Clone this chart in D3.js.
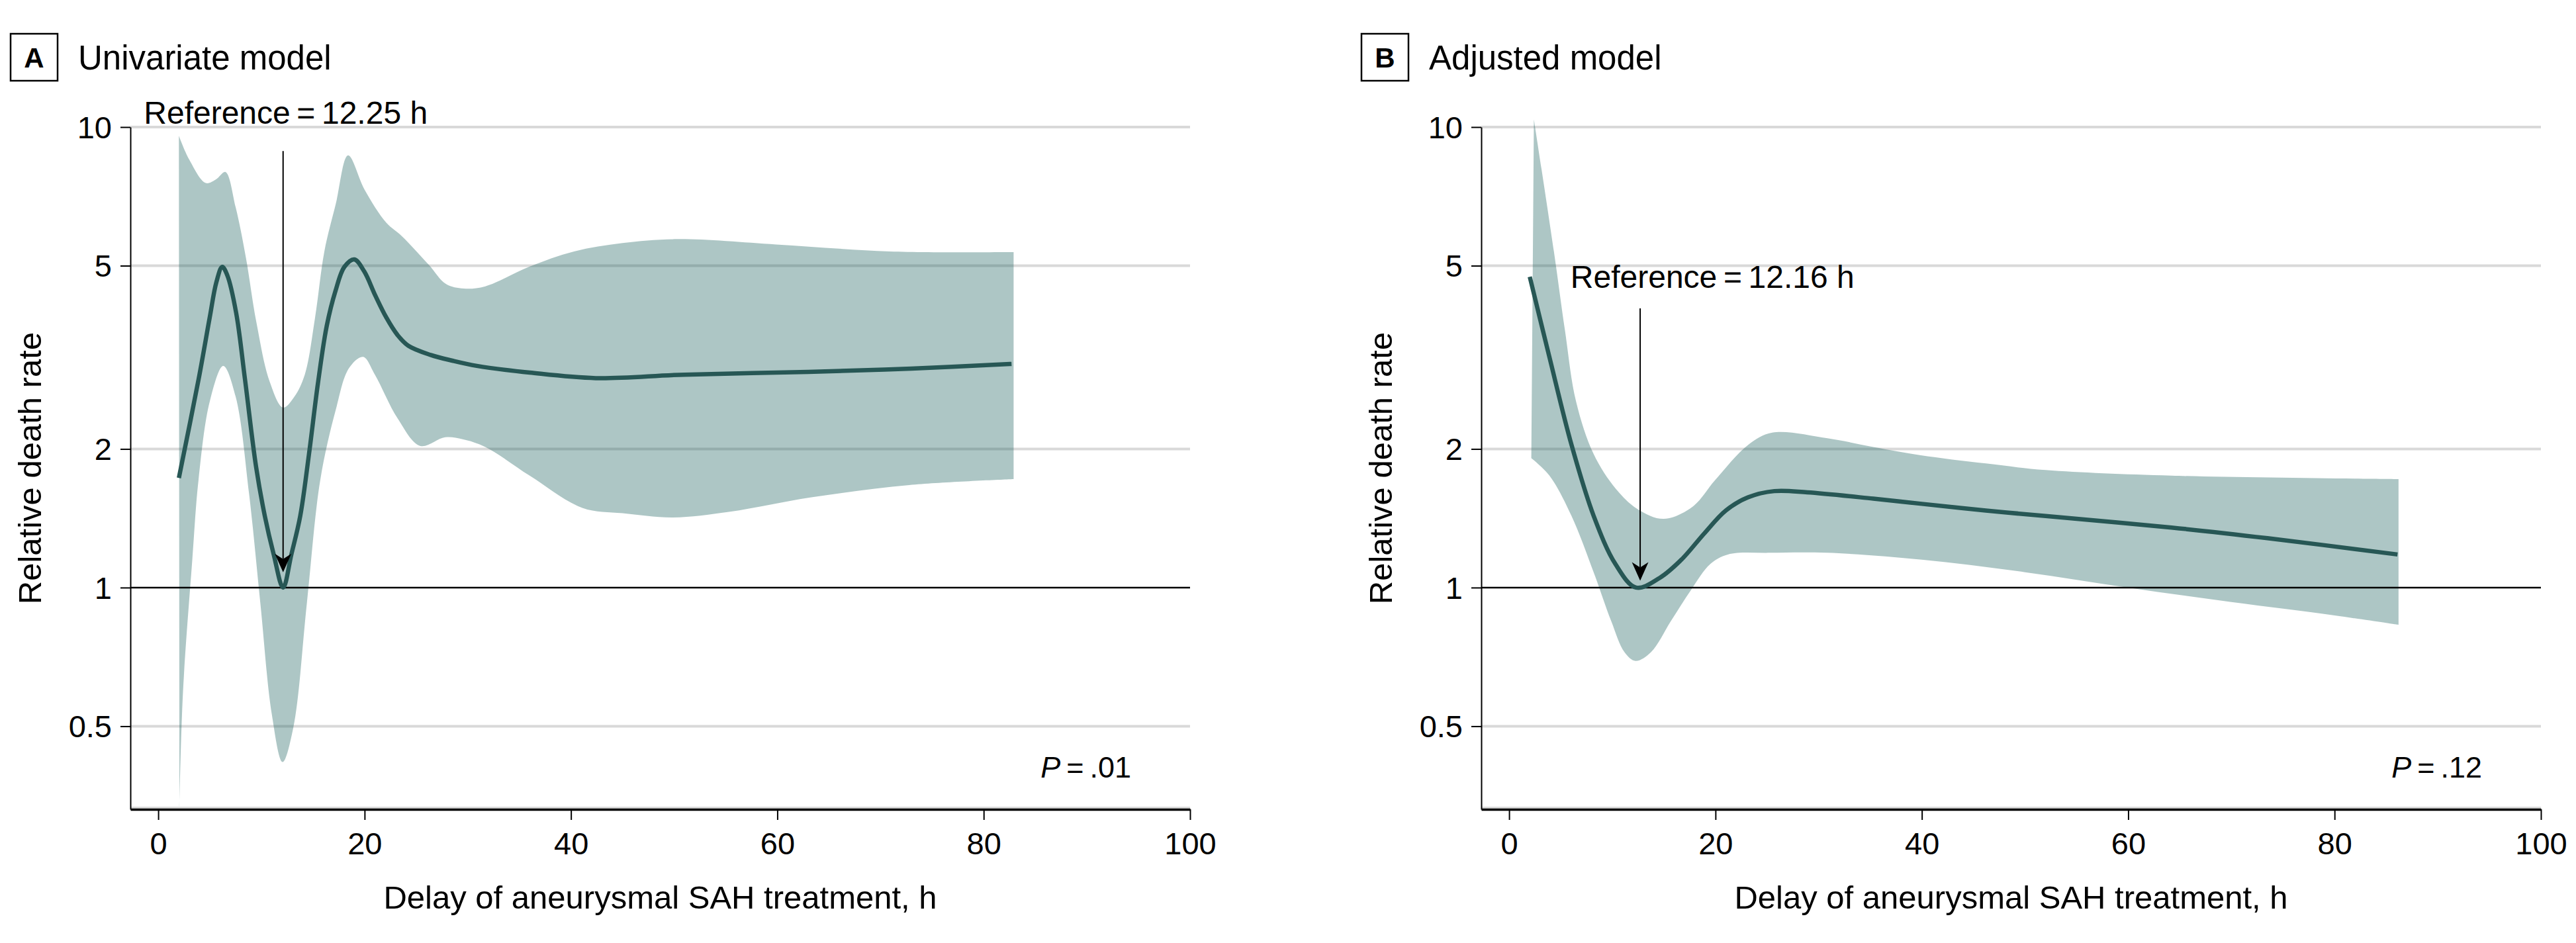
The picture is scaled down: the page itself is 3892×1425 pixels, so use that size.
<!DOCTYPE html>
<html>
<head>
<meta charset="utf-8">
<script src="https://cdn.jsdelivr.net/npm/d3@7"></script>
<style>
  html, body { margin: 0; padding: 0; background: #ffffff; }
  svg { display: block; }
  text { font-family: "Liberation Sans", Arial, sans-serif; fill: #000; }
</style>
</head>
<body>
<svg id="chart" width="3892" height="1425"></svg>
<script>
// ---------------- DATA ----------------
const xTicks = [0, 20, 40, 60, 80, 100];
const yTicks = [0.5, 1, 2, 5, 10];
const xTitle = "Delay of aneurysmal SAH treatment, h";
const yTitle = "Relative death rate";

// Panel A: Univariate model
const lineA_x = [2.0, 3.92, 4.99, 5.63, 6.2, 6.7, 7.55, 8.4, 9.48, 10.33, 11.19, 12.1, 12.9, 13.76, 14.61, 15.47, 16.33, 17.18, 18.04, 19.0, 19.96, 21.03, 22.1, 23.17, 24.24, 26.4, 28.5, 30.87, 36.0, 42.4, 51.0, 63.0, 73.0, 82.7];
const lineA_y = [1.73, 2.84, 3.86, 4.60, 4.97, 4.76, 3.95, 2.84, 1.83, 1.43, 1.18, 1.0, 1.18, 1.43, 1.95, 2.77, 3.70, 4.41, 4.97, 5.16, 4.86, 4.31, 3.86, 3.54, 3.35, 3.20, 3.11, 3.03, 2.93, 2.85, 2.90, 2.94, 2.99, 3.06];
const upperA_x = [2.0, 3.0, 4.6, 5.6, 6.5, 7.5, 8.5, 9.5, 10.8, 12.1, 13.2, 14.2, 15.2, 16.1, 17.2, 18.4, 20.0, 22.1, 23.6, 26.2, 27.9, 29.6, 31.7, 36.0, 40.3, 45.0, 50.3, 59.9, 70.9, 82.9];
const upperA_y = [9.57, 8.5, 7.56, 7.7, 7.99, 6.70, 5.2, 3.78, 2.8, 2.46, 2.6, 2.90, 3.86, 5.37, 6.8, 8.68, 7.31, 6.20, 5.80, 5.03, 4.56, 4.46, 4.51, 4.98, 5.37, 5.6, 5.71, 5.56, 5.37, 5.35];
const lowerA_x = [2.05, 2.4, 3.3, 3.9, 5.0, 6.3, 7.5, 8.8, 9.9, 11.0, 12.05, 13.1, 14.4, 15.7, 17.2, 18.5, 19.85, 21.0, 23.2, 25.4, 27.8, 29.5, 31.7, 36.0, 41.1, 45.0, 49.9, 55.3, 63.3, 72.8, 82.9];
const lowerA_y = [0.335, 0.594, 1.15, 1.71, 2.54, 3.03, 2.60, 1.60, 0.923, 0.532, 0.418, 0.498, 0.923, 1.71, 2.43, 3.0, 3.17, 2.90, 2.33, 2.03, 2.12, 2.10, 2.02, 1.75, 1.49, 1.45, 1.42, 1.46, 1.57, 1.67, 1.72];

// Panel B: Adjusted model
const lineB_x = [2.0, 3.9, 6.05, 8.2, 10.3, 12.3, 14.6, 16.7, 18.9, 21.0, 23.15, 25.7, 28.9, 35.3, 40.0, 46.2, 52.0, 64.2, 73.5, 86.1];
const lineB_y = [4.73, 3.17, 2.04, 1.43, 1.125, 1.0, 1.05, 1.15, 1.31, 1.47, 1.57, 1.62, 1.61, 1.56, 1.52, 1.47, 1.43, 1.35, 1.28, 1.18];
const upperB_x = [2.4, 4.34, 5.41, 6.48, 8.19, 10.33, 12.46, 15.0, 17.8, 19.95, 23.15, 25.5, 30.85, 35.3, 39.8, 46.2, 52.0, 64.2, 86.2];
const upperB_y = [10.4, 5.37, 3.62, 2.54, 1.95, 1.64, 1.48, 1.41, 1.50, 1.71, 2.04, 2.17, 2.11, 2.02, 1.94, 1.86, 1.80, 1.75, 1.72];
const lowerB_x = [2.15, 3.91, 6.05, 8.19, 9.9, 11.18, 12.25, 13.75, 15.67, 17.6, 19.5, 21.2, 25.3, 30.85, 40.0, 50.0, 60.0, 70.0, 80.0, 86.2];
const lowerB_y = [1.91, 1.75, 1.43, 1.08, 0.845, 0.724, 0.693, 0.724, 0.845, 0.986, 1.125, 1.18, 1.19, 1.19, 1.15, 1.08, 1.0, 0.93, 0.87, 0.83];

const panelLetters = ["A", "B"];
const panelTitles = ["Univariate model", "Adjusted model"];
const refLabels = ["Reference\u2009=\u200912.25 h", "Reference\u2009=\u200912.16 h"];
const refArrowX = [12.1, 12.7];          // arrow position (h)
const refArrowTop = [8.87, 4.04];        // arrow start (rate)
const refArrowTip = [1.08, 1.035];       // arrow tip (rate)
const refLabelX = [-1.4, 5.95];          // label start (h)
const refLabelY = [10.17, 4.48];         // label baseline (rate)
const pLabels = [".01", ".12"];

// ---------------- LAYOUT ----------------
const svg = d3.select("#chart");
svg.append("rect").attr("width", 3892).attr("height", 1425).attr("fill", "#fff");

const panelLeft = [197, 2238];
const plotW = 1601, plotTop = 192, plotBottom = 1223;
const lineColor = "#275755";
const bandColor = "rgb(21,92,89)";
const gridColor = "#d9d9d9";

const series = [
  {lx: lineA_x, ly: lineA_y, ux: upperA_x, uy: upperA_y, dx: lowerA_x, dy: lowerA_y},
  {lx: lineB_x, ly: lineB_y, ux: upperB_x, uy: upperB_y, dx: lowerB_x, dy: lowerB_y}
];

const defs = svg.append("defs");

series.forEach((s, i) => {
  const left = panelLeft[i];
  const x = d3.scaleLinear().domain([-2.7, 100]).range([left, left + plotW]);
  const y = d3.scaleLog().domain([0.33, 10]).range([plotBottom, plotTop]);
  const g = svg.append("g");

  defs.append("clipPath").attr("id", "clip" + i)
    .append("rect").attr("x", left).attr("y", 150).attr("width", plotW).attr("height", plotBottom - 150);

  // Title
  g.append("rect").attr("x", left - 181).attr("y", 51).attr("width", 71).attr("height", 71)
    .attr("fill", "none").attr("stroke", "#000").attr("stroke-width", 2.5);
  g.append("text").attr("x", left - 145.5).attr("y", 102).attr("text-anchor", "middle")
    .attr("font-weight", "bold").attr("font-size", 42).text(panelLetters[i]);
  g.append("text").attr("x", left - 79).attr("y", 105).attr("font-size", 51).text(panelTitles[i]);

  // Gridlines
  g.selectAll(".grid").data(yTicks.filter(d => d !== 1)).enter().append("line")
    .attr("x1", left).attr("x2", left + plotW)
    .attr("y1", d => y(d)).attr("y2", d => y(d))
    .attr("stroke", gridColor).attr("stroke-width", 4);
  g.append("line").attr("x1", left).attr("x2", left + plotW)
    .attr("y1", plotBottom - 2).attr("y2", plotBottom - 2)
    .attr("stroke", gridColor).attr("stroke-width", 4);

  // Band
  const lg = d3.line().x(d => x(d[0])).y(d => y(d[1])).curve(d3.curveCatmullRom.alpha(0.5));
  const up = s.ux.map((v, k) => [v, s.uy[k]]);
  const lo = s.dx.map((v, k) => [v, s.dy[k]]).reverse();
  const bandPath = lg(up) + lg(lo).replace(/^M/, "L") + "Z";
  g.append("path").attr("d", bandPath).attr("fill", bandColor).attr("fill-opacity", 0.35)
    .attr("clip-path", "url(#clip" + i + ")");

  // Reference line at 1
  g.append("line").attr("x1", left).attr("x2", left + plotW)
    .attr("y1", y(1)).attr("y2", y(1)).attr("stroke", "#000").attr("stroke-width", 2.5);

  // Estimate line
  const pts = s.lx.map((v, k) => [v, s.ly[k]]);
  g.append("path").attr("d", lg(pts)).attr("fill", "none")
    .attr("stroke", lineColor).attr("stroke-width", 6.5).attr("stroke-linejoin", "round");

  // Axes
  const yAxis = d3.axisLeft(y).tickValues(yTicks).tickFormat(d => String(d))
    .tickSize(15).tickSizeOuter(0).tickPadding(13);
  const ya = g.append("g").attr("transform", `translate(${left},0)`).call(yAxis);
  ya.select(".domain").attr("stroke", "#000").attr("stroke-width", 2);
  ya.selectAll(".tick line").attr("stroke", "#000").attr("stroke-width", 2);
  ya.selectAll(".tick text").attr("font-size", 47).attr("dy", "0.35em");

  const xAxis = d3.axisBottom(x).tickValues(xTicks).tickSize(16).tickSizeOuter(0).tickPadding(19);
  const xa = g.append("g").attr("transform", `translate(0,${plotBottom})`).call(xAxis);
  xa.select(".domain").attr("stroke", "#000").attr("stroke-width", 3.5);
  xa.selectAll(".tick line").attr("stroke", "#000").attr("stroke-width", 2);
  xa.selectAll(".tick text").attr("font-size", 47);
  ya.attr("font-family", null); xa.attr("font-family", null);

  // Axis titles
  g.append("text").attr("x", left + plotW / 2).attr("y", 1373).attr("text-anchor", "middle")
    .attr("font-size", 49).text(xTitle);
  g.append("text").attr("transform", `translate(${left - 135},${(plotTop + plotBottom) / 2}) rotate(-90)`)
    .attr("text-anchor", "middle").attr("font-size", 49).text(yTitle);

  // Reference arrow
  const ax = x(refArrowX[i]);
  g.append("line").attr("x1", ax).attr("x2", ax)
    .attr("y1", y(refArrowTop[i])).attr("y2", y(refArrowTip[i]) - 20)
    .attr("stroke", "#000").attr("stroke-width", 2);
  const ty = y(refArrowTip[i]);
  g.append("path").attr("d", `M${ax},${ty} L${ax - 12.5},${ty - 28} L${ax},${ty - 20} L${ax + 12.5},${ty - 28} Z`)
    .attr("fill", "#000");
  g.append("text").attr("x", x(refLabelX[i])).attr("y", y(refLabelY[i]))
    .attr("font-size", 48).text(refLabels[i]);

  // P value
  const pt = g.append("text").attr("x", left + plotW - 89).attr("y", 1175)
    .attr("text-anchor", "end").attr("font-size", 45);
  pt.append("tspan").attr("font-style", "italic").text("P");
  pt.append("tspan").text("\u2009=\u2009" + pLabels[i]);
});
</script>
</body>
</html>
